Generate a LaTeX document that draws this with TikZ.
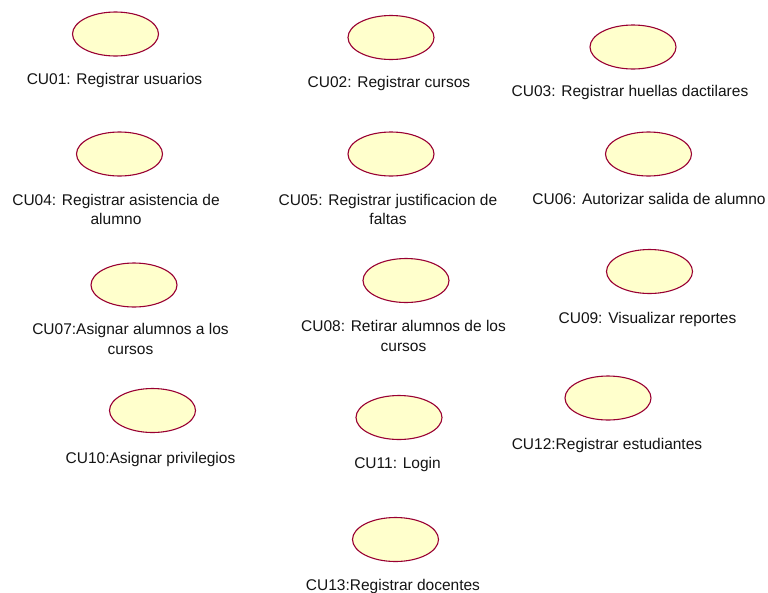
\documentclass[tikz,border=0pt]{standalone}
\usepackage{fontspec}
\setmainfont{Liberation Sans}
\usetikzlibrary{shapes.geometric}
\definecolor{ucline}{RGB}{153,0,51}
\definecolor{ucfill}{RGB}{255,255,204}
\definecolor{uctext}{RGB}{20,20,20}
\tikzset{
  usecase/.style={ellipse, draw=ucline, fill=ucfill, line width=1.1pt,
    minimum width=86pt, minimum height=44pt, inner sep=0pt},
  uclabel/.style={anchor=base, align=center, inner sep=0pt, text=uctext,
    font=\fontsize{15.5}{19.5}\selectfont}
}
\begin{document}
\begin{tikzpicture}[x=1pt,y=-1pt]
\useasboundingbox (0,0) rectangle (768,592);
\fill[white] (0,0) rectangle (768,592);
% use cases
\node[usecase] (u01) at (115.5,34) {};
\node[usecase] (u02) at (391,37.5) {};
\node[usecase] (u03) at (633,47) {};
\node[usecase] (u04) at (119.5,154) {};
\node[usecase] (u05) at (391,154) {};
\node[usecase] (u06) at (648.5,154) {};
\node[usecase] (u07) at (134,285) {};
\node[usecase] (u08) at (406,280.5) {};
\node[usecase] (u09) at (649.5,271.5) {};
\node[usecase] (u10) at (152.5,410.5) {};
\node[usecase] (u11) at (399,417.5) {};
\node[usecase] (u12) at (608,398) {};
\node[usecase] (u13) at (395.5,539.5) {};
% labels (two-line labels are placed by the baseline of their last line)
\node[uclabel] (l01) at (114.5,84) {CU01: Registrar usuarios};
\node[uclabel] (l02) at (389,87) {CU02: Registrar cursos};
\node[uclabel] (l03) at (630,96) {CU03: Registrar huellas dactilares};
\node[uclabel] (l04) at (116,224.5) {CU04: Registrar asistencia de\\alumno};
\node[uclabel] (l05) at (388,224.5) {CU05: Registrar justificacion de\\faltas};
\node[uclabel] (l06) at (649,204) {CU06: Autorizar salida de alumno};
\node[uclabel] (l07) at (130.5,354) {CU07:Asignar alumnos a los\\cursos};
\node[uclabel] (l08) at (403.5,351) {CU08: Retirar alumnos de los\\cursos};
\node[uclabel] (l09) at (647.5,323) {CU09: Visualizar reportes};
\node[uclabel] (l10) at (150.5,463) {CU10:Asignar privilegios};
\node[uclabel] (l11) at (397.5,468) {CU11: Login};
\node[uclabel] (l12) at (607,449) {CU12:Registrar estudiantes};
\node[uclabel] (l13) at (393,590) {CU13:Registrar docentes};
\end{tikzpicture}
\end{document}
